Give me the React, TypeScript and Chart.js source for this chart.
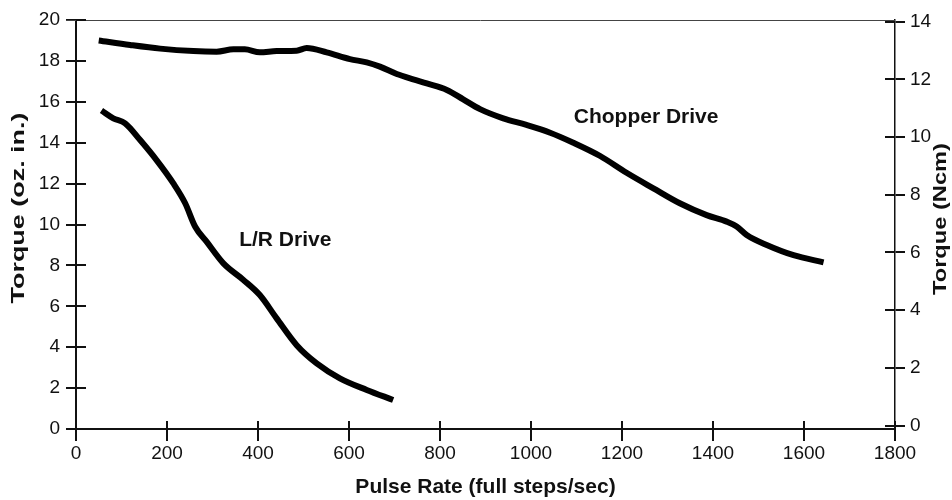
import React, { useEffect, useRef } from "react";
import { Chart, registerables } from "chart.js";

Chart.register(...registerables);

// Pulse rate (full steps/sec) and torque (oz. in.)
const chopperRate = [50, 119, 185, 258, 309, 346, 371, 404, 441, 485, 507, 551, 602, 639, 668, 705, 741, 771, 815, 851, 888, 939, 990, 1042, 1093, 1152, 1210, 1269, 1327, 1386, 1430, 1452, 1474, 1518, 1577, 1643];
const chopperTorque = [19.0, 18.78, 18.6, 18.48, 18.45, 18.57, 18.57, 18.42, 18.48, 18.5, 18.63, 18.42, 18.09, 17.93, 17.72, 17.36, 17.1, 16.9, 16.58, 16.12, 15.64, 15.19, 14.87, 14.49, 14.0, 13.35, 12.53, 11.77, 11.04, 10.46, 10.14, 9.9, 9.49, 9.0, 8.5, 8.15];

const lrRate = [56, 82, 108, 141, 177, 214, 240, 262, 287, 324, 368, 404, 441, 485, 529, 580, 639, 697];
const lrTorque = [15.57, 15.19, 14.95, 14.13, 13.15, 12.01, 11.04, 9.89, 9.16, 8.1, 7.29, 6.55, 5.41, 4.1, 3.21, 2.48, 1.91, 1.42];

const xTicks = [0, 200, 400, 600, 800, 1000, 1200, 1400, 1600, 1800];
const ozTicks = [0, 2, 4, 6, 8, 10, 12, 14, 16, 18, 20];
const ncmTicks = [0, 2, 4, 6, 8, 10, 12, 14];

const seriesLabels = ["Chopper Drive", "L/R Drive"];
const labelAnchors = [
  { x: 1253, y: 15.26 },
  { x: 460, y: 9.24 },
];
const xTitle = "Pulse Rate (full steps/sec)";
const yTitle = "Torque (oz. in.)";
const y2Title = "Torque (Ncm)";

const FONT = "'Liberation Sans', Arial, Helvetica, sans-serif";
const INK = "#111";

const decorPlugin = {
  id: "decor",
  afterDraw(chart: any) {
    const { ctx, chartArea: a, scales } = chart;
    const line = (x1: number, y1: number, x2: number, y2: number) => {
      ctx.beginPath();
      ctx.moveTo(x1, y1);
      ctx.lineTo(x2, y2);
      ctx.stroke();
    };
    ctx.save();
    // top frame line
    ctx.strokeStyle = "#444";
    ctx.lineWidth = 1;
    line(a.left - 10, Math.round(a.top) + 0.5, a.right, Math.round(a.top) + 0.5);
    // inner halves of tick marks
    ctx.strokeStyle = INK;
    ctx.lineWidth = 2;
    scales.y.ticks.forEach((t: any) => {
      const p = Math.round(scales.y.getPixelForValue(t.value));
      line(a.left, p, a.left + 10, p);
    });
    scales.y2.ticks.forEach((t: any) => {
      const p = Math.round(scales.y2.getPixelForValue(t.value));
      line(a.right - 10, p, a.right, p);
    });
    scales.x.ticks.forEach((t: any) => {
      const p = Math.round(scales.x.getPixelForValue(t.value));
      line(p, a.bottom, p, a.bottom - 8);
    });
    // curve labels
    ctx.fillStyle = INK;
    ctx.font = `bold 21px ${FONT}`;
    ctx.textAlign = "center";
    ctx.textBaseline = "middle";
    seriesLabels.forEach((s, i) => {
      ctx.fillText(
        s,
        scales.x.getPixelForValue(labelAnchors[i].x),
        scales.y.getPixelForValue(labelAnchors[i].y)
      );
    });
    // vertical axis titles (both read bottom to top), fitted to the reference length
    const vTitle = (text: string, cx: number, cy: number, len: number) => {
      ctx.save();
      ctx.font = `bold 19px ${FONT}`;
      const w = ctx.measureText(text).width;
      ctx.translate(cx, cy);
      ctx.rotate(-Math.PI / 2);
      ctx.scale(len / w, 1);
      ctx.fillText(text, 0, 0);
      ctx.restore();
    };
    vTitle(yTitle, 19, 208, 191);
    vTitle(y2Title, 941, 219, 152);
    ctx.restore();
  },
};

export default function App() {
  const ref = useRef<HTMLCanvasElement | null>(null);

  useEffect(() => {
    if (!ref.current) return;
    const tickFont = { family: FONT, size: 19 };
    const plain = (v: any) => String(v);
    const chart = new Chart(ref.current, {
      type: "line",
      data: {
        datasets: [
          {
            label: seriesLabels[0],
            data: chopperRate.map((x, i) => ({ x, y: chopperTorque[i] })),
            borderColor: "#000",
            borderWidth: 6,
            pointRadius: 0,
            tension: 0.4,
            cubicInterpolationMode: "monotone",
            borderCapStyle: "butt",
            borderJoinStyle: "round",
            yAxisID: "y",
          },
          {
            label: seriesLabels[1],
            data: lrRate.map((x, i) => ({ x, y: lrTorque[i] })),
            borderColor: "#000",
            borderWidth: 6,
            pointRadius: 0,
            tension: 0.4,
            cubicInterpolationMode: "monotone",
            borderCapStyle: "butt",
            borderJoinStyle: "round",
            yAxisID: "y",
          },
        ],
      },
      options: {
        animation: false,
        responsive: false,
        maintainAspectRatio: false,
        layout: { padding: { top: 20, left: 0, right: 0, bottom: 0 } },
        plugins: { legend: { display: false }, tooltip: { enabled: false } },
        scales: {
          x: {
            type: "linear",
            min: 0,
            max: 1800,
            afterBuildTicks: (s: any) => {
              s.ticks = xTicks.map((v) => ({ value: v }));
            },
            afterFit: (s: any) => {
              s.height = 71;
            },
            ticks: { font: tickFont, color: INK, padding: 1, maxRotation: 0, autoSkip: false, callback: plain },
            grid: { drawOnChartArea: false, tickLength: 12, color: INK, lineWidth: 2 },
            border: { color: INK, width: 2 },
            title: {
              display: true,
              text: xTitle,
              color: INK,
              font: { family: FONT, size: 21, weight: "bold" },
              padding: { top: 0, bottom: 0 },
            },
          },
          y: {
            type: "linear",
            position: "left",
            min: 0,
            max: 20,
            afterBuildTicks: (s: any) => {
              s.ticks = ozTicks.map((v) => ({ value: v }));
            },
            afterFit: (s: any) => {
              s.width = 76;
            },
            ticks: { font: tickFont, color: INK, padding: 6, callback: plain },
            grid: { drawOnChartArea: false, tickLength: 10, color: INK, lineWidth: 2 },
            border: { color: INK, width: 2 },
          },
          y2: {
            type: "linear",
            position: "right",
            min: -0.12,
            max: 14.06,
            afterBuildTicks: (s: any) => {
              s.ticks = ncmTicks.map((v) => ({ value: v }));
            },
            afterFit: (s: any) => {
              s.width = 57;
            },
            ticks: { font: tickFont, color: INK, padding: 5, callback: plain },
            grid: { drawOnChartArea: false, tickLength: 10, color: INK, lineWidth: 2 },
            border: { color: INK, width: 1.5 },
          },
        },
      },
      plugins: [decorPlugin],
    } as any);
    return () => chart.destroy();
  }, []);

  return (
    <div style={{ position: "fixed", left: 0, top: 0, width: 952, height: 500, background: "#fff" }}>
      <canvas ref={ref} width={952} height={500} style={{ width: 952, height: 500, display: "block" }} />
    </div>
  );
}
